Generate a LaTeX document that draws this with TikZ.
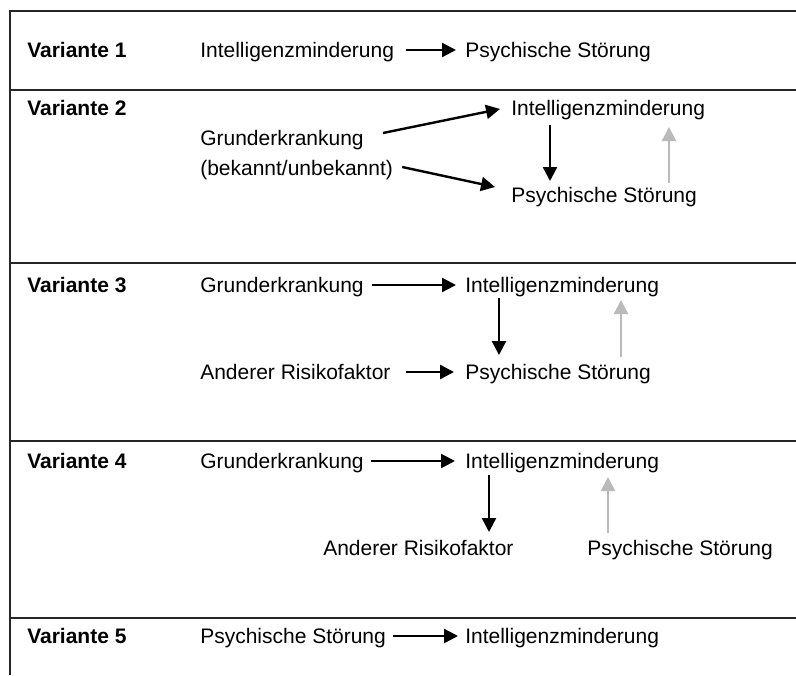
\documentclass[tikz,border=0pt]{standalone}
\usepackage{fontspec}
\setmainfont{Liberation Sans}
\usetikzlibrary{arrows.meta,calc}
\begin{document}
\begin{tikzpicture}[x=0.75pt,y=-0.75pt,
  tx/.style={anchor=west, inner sep=0pt, text height=14pt, text depth=3.5pt, font=\fontsize{15.75}{18}\selectfont},
  lab/.style={tx, font=\fontsize{15.75}{18}\selectfont\bfseries},
  frame/.style={draw=black!85, line width=0.9pt},
  arr/.style={draw=black, line width=1.8pt, -{Triangle[length=10.5pt,width=10.5pt]}},
  garr/.style={draw=black!27, line width=1.8pt, -{Triangle[length=10.5pt,width=10.5pt]}}]
\useasboundingbox (0,0) rectangle (796,675);
% frame
\draw[frame] (10,675) -- (10,11) -- (796,11);
\draw[frame] (10,90) -- (796,90);
\draw[frame] (10,263) -- (796,263);
\draw[frame] (10,441) -- (796,441);
\draw[frame] (10,618) -- (796,618);
% Variante 1
\node[lab] (v1) at (27,50) {Variante 1};
\node[tx] (a1) at (200,50) {Intelligenzminderung};
\node[tx] (b1) at (465,50) {Psychische Störung};
\draw[arr] ($(a1.east)+(12,0)$) -- ($(b1.west)+(-9,0)$);
% Variante 2
\node[lab] (v2) at (27,108) {Variante 2};
\node[tx] (g2) at (200,138) {Grunderkrankung};
\node[tx] (g2b) at (200,168) {(bekannt/unbekannt)};
\node[tx] (a2) at (511,108) {Intelligenzminderung};
\node[tx] (b2) at (511,195) {Psychische Störung};
\draw[arr] ($(g2.east)+(19,-5)$) -- ($(a2.west)+(-11,1)$);
\draw[arr] ($(g2b.east)+(9,-1)$) -- ($(b2.west)+(-16,-8)$);
\draw[arr] ($(a2.west)+(39,17)$) -- ($(b2.west)+(39,-14)$);
\draw[garr] ($(b2.west)+(158,-12)$) -- ($(a2.west)+(158,19)$);
% Variante 3
\node[lab] (v3) at (27,285) {Variante 3};
\node[tx] (g3) at (200,285) {Grunderkrankung};
\node[tx] (a3) at (465,285) {Intelligenzminderung};
\node[tx] (r3) at (200,372) {Anderer Risikofaktor};
\node[tx] (b3) at (465,372) {Psychische Störung};
\draw[arr] ($(g3.east)+(8,0)$) -- ($(a3.west)+(-9,0)$);
\draw[arr] ($(r3.east)+(15,0)$) -- ($(b3.west)+(-11,0)$);
\draw[arr] ($(a3.west)+(34,13)$) -- ($(b3.west)+(34,-17)$);
\draw[garr] ($(b3.west)+(156,-15)$) -- ($(a3.west)+(156,15)$);
% Variante 4
\node[lab] (v4) at (27,461) {Variante 4};
\node[tx] (g4) at (200,461) {Grunderkrankung};
\node[tx] (a4) at (465,461) {Intelligenzminderung};
\node[tx] (r4) at (323,548) {Anderer Risikofaktor};
\node[tx] (b4) at (587,548) {Psychische Störung};
\draw[arr] ($(g4.east)+(7,0)$) -- ($(a4.west)+(-10,0)$);
\draw[arr] ($(a4.west)+(24,14)$) -- ($(r4.west)+(166,-16)$);
\draw[garr] ($(b4.west)+(21,-15)$) -- ($(a4.west)+(143,16)$);
% Variante 5
\node[lab] (v5) at (27,636) {Variante 5};
\node[tx] (b5) at (200,636) {Psychische Störung};
\node[tx] (a5) at (465,636) {Intelligenzminderung};
\draw[arr] ($(b5.east)+(7,0)$) -- ($(a5.west)+(-7,0)$);
\end{tikzpicture}
\end{document}
